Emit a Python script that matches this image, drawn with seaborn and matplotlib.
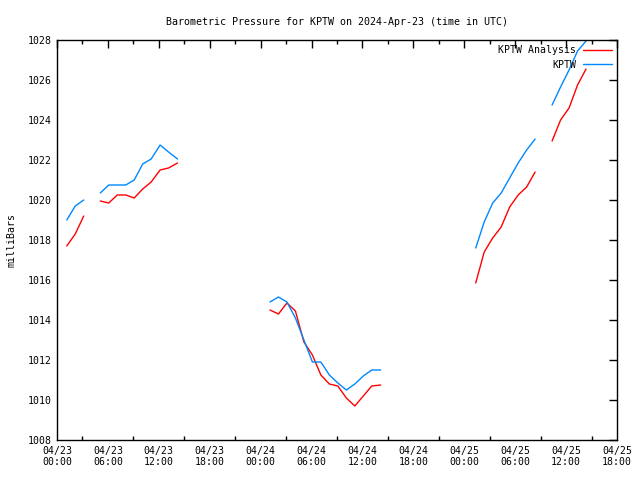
import numpy as np
import pandas as pd
import matplotlib
matplotlib.use("Agg")
import matplotlib.pyplot as plt
import seaborn as sns
from matplotlib.ticker import MultipleLocator, FuncFormatter

# hours since 2024-04-23 00:00 UTC, split where observations are missing
seg_hours = [
    [1.15, 2.15, 3.15],
    [5.1, 6.1, 7.1, 8.1, 9.1, 10.1, 11.1, 12.15, 13.15, 14.2],
    [25.1, 26.1, 27.1, 28.1, 29.1, 30.1, 31.1, 32.1, 33.1, 34.1, 35.1, 36.1, 37.1, 38.15],
    [49.35, 50.35, 51.35, 52.35, 53.35, 54.35, 55.35, 56.35],
    [58.35, 59.35, 60.35, 61.35, 62.35],
]
kptw = [
    [1019.0, 1019.7, 1020.0],
    [1020.35, 1020.75, 1020.75, 1020.75, 1021.0, 1021.8, 1022.05, 1022.75, 1022.4, 1022.05],
    [1014.9, 1015.15, 1014.9, 1014.1, 1013.0, 1011.9, 1011.9, 1011.25, 1010.85, 1010.5,
     1010.8, 1011.2, 1011.5, 1011.5],
    [1017.6, 1018.9, 1019.85, 1020.35, 1021.1, 1021.85, 1022.5, 1023.05],
    [1024.75, 1025.65, 1026.5, 1027.45, 1027.95],
]
analysis = [
    [1017.7, 1018.3, 1019.2],
    [1019.95, 1019.85, 1020.25, 1020.25, 1020.1, 1020.55, 1020.9, 1021.5, 1021.6, 1021.85],
    [1014.5, 1014.3, 1014.85, 1014.45, 1012.9, 1012.25, 1011.25, 1010.8, 1010.7, 1010.1,
     1009.7, 1010.2, 1010.7, 1010.75],
    [1015.85, 1017.4, 1018.1, 1018.65, 1019.65, 1020.25, 1020.65, 1021.4],
    [1022.95, 1024.0, 1024.6, 1025.75, 1026.55],
]
tick_days = ["04/23", "04/24", "04/25"]

rows = []
for i, hrs in enumerate(seg_hours):
    for j, h in enumerate(hrs):
        rows.append({"hour": h, "seg": i, "series": "KPTW Analysis", "mb": analysis[i][j]})
        rows.append({"hour": h, "seg": i, "series": "KPTW", "mb": kptw[i][j]})
df = pd.DataFrame(rows)

sns.set_style("white")
plt.rcParams["font.family"] = ["DejaVu Sans Mono"]
plt.rcParams["font.size"] = 7
plt.rcParams["text.color"] = "black"
plt.rcParams["axes.labelcolor"] = "black"

fig = plt.figure(figsize=(6.4, 4.8), dpi=100)
ax = fig.add_axes([57 / 640, 40 / 480, 560 / 640, 400 / 480])

sns.lineplot(data=df, x="hour", y="mb", hue="series", units="seg", estimator=None,
             palette={"KPTW Analysis": "#ff0000", "KPTW": "#0088ff"},
             hue_order=["KPTW Analysis", "KPTW"], linewidth=1, ax=ax)

ax.set_xlim(0, 66)
ax.set_ylim(1008, 1028)
ax.xaxis.set_major_locator(MultipleLocator(6))
ax.xaxis.set_minor_locator(MultipleLocator(3))
ax.yaxis.set_major_locator(MultipleLocator(2))


def fmt(x, pos):
    h = int(round(x))
    return "%s\n%02d:00" % (tick_days[min(h // 24, 2)], h % 24)


ax.xaxis.set_major_formatter(FuncFormatter(fmt))
ax.tick_params(axis="both", which="major", direction="in", length=6, width=1,
               top=True, right=True, labelsize=7.1, colors="black", pad=4)
ax.tick_params(axis="x", which="minor", direction="in", length=3, width=1,
               top=True, bottom=True, colors="black")
for s in ax.spines.values():
    s.set_visible(True)
    s.set_color("black")
    s.set_linewidth(1)

ax.set_xlabel("")
ax.set_ylabel("milliBars", fontsize=7.1, color="black")
ax.yaxis.set_label_coords(-0.072, 0.5)
ax.set_title("Barometric Pressure for KPTW on 2024-Apr-23 (time in UTC)", fontsize=7.2,
             pad=11, color="black")

leg = ax.legend(loc="upper right", frameon=False, markerfirst=False, fontsize=7.1,
                handlelength=2.9, borderaxespad=0.15, labelspacing=0.45, handletextpad=0.7)
for t in leg.get_texts():
    t.set_ha("right")
    t.set_color("black")
leg._legend_box.align = "right"

fig.savefig("out.png", dpi=100)
